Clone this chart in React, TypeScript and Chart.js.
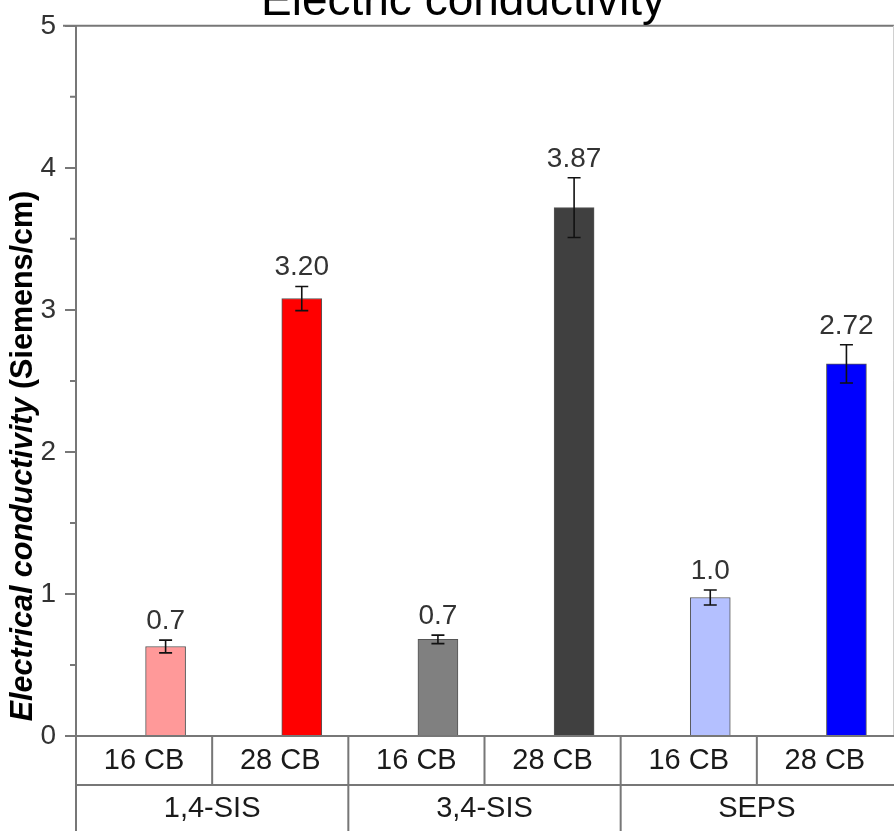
import React, { useEffect, useRef } from "react";
import { Chart, registerables } from "chart.js";

Chart.register(...registerables);

const categories = ["16 CB", "28 CB", "16 CB", "28 CB", "16 CB", "28 CB"];
const groups = ["1,4-SIS", "3,4-SIS", "SEPS"];
const values = [0.63, 3.08, 0.68, 3.72, 0.975, 2.62];
const errors = [0.045, 0.085, 0.03, 0.21, 0.053, 0.135];
const valueLabels = ["0.7", "3.20", "0.7", "3.87", "1.0", "2.72"];
const colors = ["#FF9999", "#FF0000", "#808080", "#404040", "#B4C0FF", "#0000FF"];
const yTicks = [0, 1, 2, 3, 4, 5];
const minorTicks = [0.5, 1.5, 2.5, 3.5, 4.5];
const title = "Electric conductivity";
const yTitleItalic = "Electrical conductivity";
const yTitleRest = " (Siemens/cm)";

const FONT = "'Liberation Sans', Arial, sans-serif";
const AXIS = "#777";

const decorPlugin = {
  id: "decor",
  afterDatasetsDraw(chart: any) {
    const ctx = chart.ctx;
    const ca = chart.chartArea;
    const xs = chart.scales.x;
    const ys = chart.scales.y;
    const meta = chart.getDatasetMeta(0);
    ctx.save();
    // error bars and value labels
    meta.data.forEach((bar: any, i: number) => {
      const x = bar.x;
      const yt = ys.getPixelForValue(values[i] + errors[i]);
      const yb = ys.getPixelForValue(values[i] - errors[i]);
      ctx.strokeStyle = "#111";
      ctx.lineWidth = 1.6;
      ctx.beginPath();
      ctx.moveTo(x, yt);
      ctx.lineTo(x, yb);
      ctx.moveTo(x - 6.5, yt);
      ctx.lineTo(x + 6.5, yt);
      ctx.moveTo(x - 6.5, yb);
      ctx.lineTo(x + 6.5, yb);
      ctx.stroke();
      ctx.fillStyle = "#333";
      ctx.font = `28px ${FONT}`;
      ctx.textAlign = "center";
      ctx.textBaseline = "alphabetic";
      ctx.fillText(valueLabels[i], x, yt - 11);
    });
    // frame
    ctx.strokeStyle = AXIS;
    ctx.lineWidth = 2;
    ctx.beginPath();
    ctx.moveTo(ca.left - 13, ca.top);
    ctx.lineTo(chart.width, ca.top);
    ctx.stroke();
    ctx.strokeStyle = "#d0d0d0";
    ctx.lineWidth = 1;
    ctx.beginPath();
    ctx.moveTo(ca.right + 0.5, ca.top);
    ctx.lineTo(ca.right + 0.5, ca.bottom);
    ctx.stroke();
    // left axis extended through table
    ctx.strokeStyle = AXIS;
    ctx.lineWidth = 2;
    ctx.beginPath();
    ctx.moveTo(ca.left, ca.top);
    ctx.lineTo(ca.left, chart.height);
    ctx.stroke();
    // minor ticks
    ctx.beginPath();
    minorTicks.forEach((v) => {
      const y = ys.getPixelForValue(v);
      ctx.moveTo(ca.left - 6, y);
      ctx.lineTo(ca.left, y);
    });
    ctx.stroke();
    // bottom axis line
    ctx.beginPath();
    ctx.moveTo(ca.left - 11, ca.bottom);
    ctx.lineTo(chart.width, ca.bottom);
    ctx.stroke();
    // table
    const row1 = ca.bottom + 49;
    ctx.beginPath();
    ctx.moveTo(ca.left, row1);
    ctx.lineTo(chart.width, row1);
    categories.forEach((_, i) => {
      if (i === 0) return;
      const xb = xs.getPixelForValue(i);
      ctx.moveTo(xb, ca.bottom);
      ctx.lineTo(xb, i % 2 === 0 ? chart.height : row1);
    });
    ctx.stroke();
    ctx.fillStyle = "#1a1a1a";
    ctx.font = `29px ${FONT}`;
    ctx.textAlign = "center";
    ctx.textBaseline = "middle";
    categories.forEach((c, i) => {
      ctx.fillText(c, xs.getPixelForValue(i + 0.5), ca.bottom + 25);
    });
    groups.forEach((g, i) => {
      ctx.fillText(g, xs.getPixelForValue(i * 2 + 1), row1 + 24);
    });
    // title
    ctx.fillStyle = "#000";
    ctx.font = `46px ${FONT}`;
    ctx.textAlign = "center";
    ctx.textBaseline = "alphabetic";
    ctx.fillText(title, 463, 15);
    // y title
    ctx.translate(32, 456);
    ctx.rotate(-Math.PI / 2);
    ctx.fillStyle = "#000";
    ctx.textBaseline = "alphabetic";
    ctx.textAlign = "left";
    const f1 = `italic bold 30.5px ${FONT}`;
    const f2 = `bold 30.5px ${FONT}`;
    ctx.font = f1;
    const w1 = ctx.measureText(yTitleItalic).width;
    ctx.font = f2;
    const w2 = ctx.measureText(yTitleRest).width;
    const start = -(w1 + w2) / 2;
    ctx.font = f1;
    ctx.fillText(yTitleItalic, start, 0);
    ctx.font = f2;
    ctx.fillText(yTitleRest, start + w1, 0);
    ctx.restore();
  },
};

export default function App() {
  const ref = useRef<HTMLCanvasElement | null>(null);
  useEffect(() => {
    if (!ref.current) return;
    const chart = new Chart(ref.current, {
      type: "bar",
      data: {
        datasets: [
          {
            data: values.map((v, i) => ({ x: i + 0.658, y: v })),
            backgroundColor: colors,
            borderColor: "#555",
            borderWidth: 1,
            barThickness: 40,
          },
        ],
      },
      options: {
        responsive: false,
        animation: false,
        layout: { padding: { top: 23, right: 1, bottom: 95, left: 0 } },
        plugins: { legend: { display: false }, tooltip: { enabled: false }, title: { display: false } },
        scales: {
          x: { type: "linear", min: 0, max: 6, display: false, offset: false },
          y: {
            min: 0,
            max: 5,
            afterFit: (s: any) => {
              s.width = 76;
            },
            afterBuildTicks: (s: any) => {
              s.ticks = yTicks.map((v) => ({ value: v }));
            },
            ticks: { font: { size: 28, family: FONT }, color: "#333", padding: 9 },
            grid: { drawOnChartArea: false, drawTicks: true, tickLength: 11, color: AXIS, lineWidth: 2 },
            border: { display: true, color: AXIS, width: 2 },
          },
        },
      },
      plugins: [decorPlugin],
    });
    return () => chart.destroy();
  }, []);
  return (
    <div style={{ position: "fixed", left: 0, top: 0, width: 894, height: 831, background: "#fff" }}>
      <canvas ref={ref} width={894} height={831} style={{ width: 894, height: 831, display: "block" }} />
    </div>
  );
}
